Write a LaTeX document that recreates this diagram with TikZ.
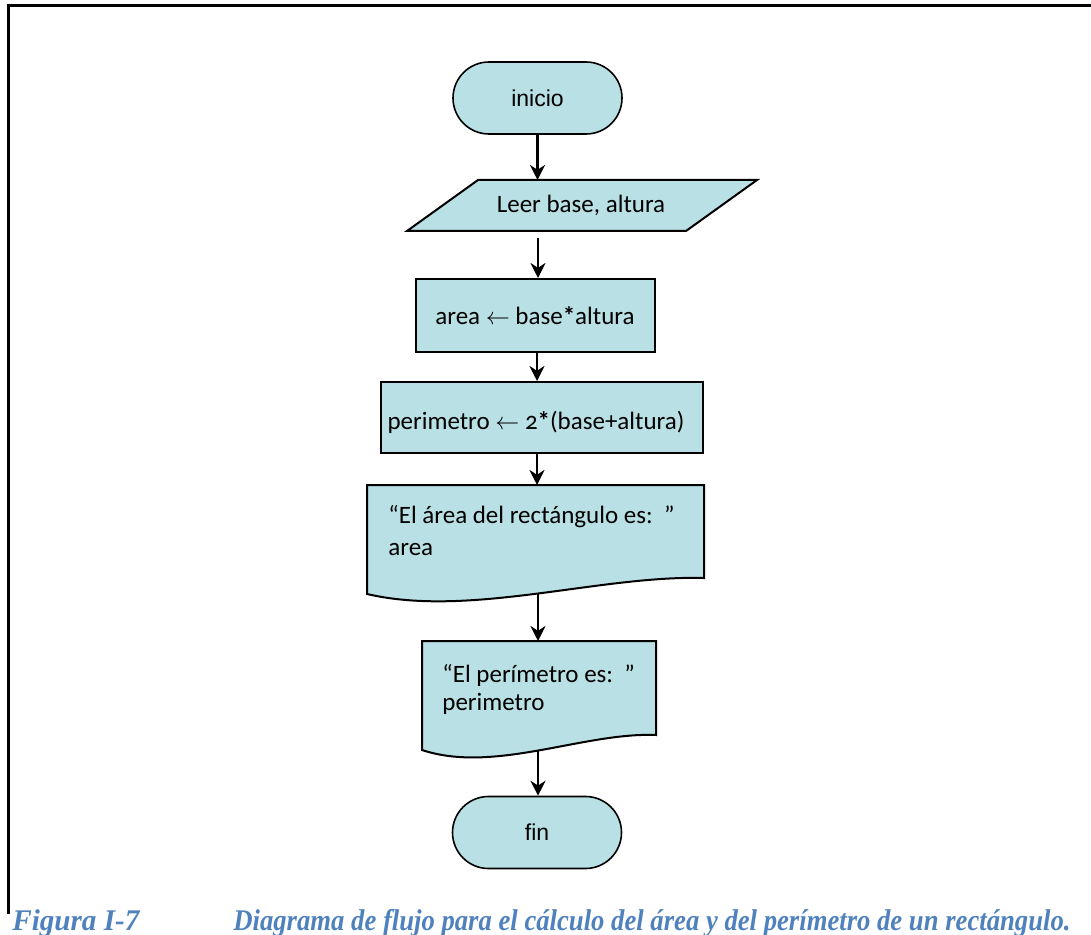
\documentclass[tikz,border=0pt]{standalone}
\usepackage{fontspec}
\usepackage{graphicx}
\setmainfont{Carlito}
\newfontfamily\termfont{Liberation Sans}
\newfontfamily\boxfont[Numbers=OldStyle]{Carlito}
\newfontfamily\capfont{Liberation Serif}
\usetikzlibrary{arrows.meta}
\definecolor{boxfill}{RGB}{185,224,228}
\definecolor{capblue}{RGB}{79,129,189}

\tikzset{
  term/.style={draw, line width=0.8pt, fill=boxfill, rounded corners=18pt,
    minimum width=84.5pt, minimum height=36pt, inner sep=0pt,
    font=\termfont\fontsize{11.5pt}{14pt}\selectfont},
  procbox/.style={draw, line width=1pt, fill=boxfill, inner sep=0pt},
  shapeline/.style={draw, line width=1pt, fill=boxfill},
  txt/.style={inner sep=0pt, font=\boxfont\fontsize{12.5pt}{15pt}\selectfont},
  flow/.style={draw, line width=1.2pt, -{Stealth[length=7.5pt,width=7.5pt]}},
  capt/.style={inner sep=0pt, text=capblue,
    font=\capfont\bfseries\itshape\fontsize{15pt}{18pt}\selectfont}
}
\newcommand{\mulstar}{\textbf{*}}

\begin{document}
\begin{tikzpicture}[x=0.5pt,y=-0.5pt]
\useasboundingbox (0,0) rectangle (1091,935);

% page frame
\draw[line width=1.5pt] (8.5,914) -- (8.5,5.5) -- (1091,5.5);

% start
\node[term] (ini) at (537.5,98) {inicio};

% input
\path[shapeline] (407,231) -- (478,180) -- (757,180) -- (686,231) -- cycle;
\node[txt, anchor=base] (rd) at (581,213) {Leer base, altura};
\coordinate (rdin) at (537.5,180);
\coordinate (rdout) at (538,238);

% processes
\node[procbox, minimum width=119.5pt, minimum height=36.5pt] (ar) at (535.5,315.5) {};
\node[txt, anchor=base] (art) at (535,325) {area $\leftarrow$ base\mulstar altura};
\node[procbox, minimum width=161pt, minimum height=35.5pt] (pr) at (542,417.5) {};
\node[txt, anchor=base] (prt) at (536,429) {perimetro $\leftarrow$ 2\mulstar(base+altura)};

% first output document
\path[shapeline] (367,485) -- (704,485) -- (704,578)
  .. controls (600,575) and (470,618) .. (367,594) -- cycle;
\node[txt, anchor=base west] (d1a) at (388,523) {“El área del rectángulo es:\ \ ”};
\node[txt, anchor=base west] (d1b) at (388,555) {area};
\coordinate (d1in) at (537,485);
\coordinate (d1out) at (538,594);

% second output document
\path[shapeline] (422,641) -- (656,641) -- (656,735)
  .. controls (584,732) and (494,774) .. (422,750) -- cycle;
\node[txt, anchor=base west] (d2a) at (442,682) {“El perímetro es:\ \ ”};
\node[txt, anchor=base west] (d2b) at (442,710) {perimetro};
\coordinate (d2in) at (538,641);
\coordinate (d2out) at (538,750);

% end
\node[term] (fin) at (537,832.5) {fin};

% connectors
\draw[flow] (ini.south) -- (rdin);
\draw[flow] (rdout) -- (rdout |- ar.north);
\draw[flow] (ar.south -| d1in) -- (d1in |- pr.north);
\draw[flow] (d1in |- pr.south) -- (d1in);
\draw[flow] (d1out) -- (d2in);
\draw[flow] (d2out) -- (d2out |- fin.north);

% caption
\node[capt, anchor=base west] (fig) at (12,930) {\resizebox{63.5pt}{\height}{Figura I-7}};
\node[capt, anchor=base west] (cap) at (233,930)
  {\resizebox{418.5pt}{\height}{Diagrama de flujo para el cálculo del área y del perímetro de un rectángulo.}};
\end{tikzpicture}
\end{document}
